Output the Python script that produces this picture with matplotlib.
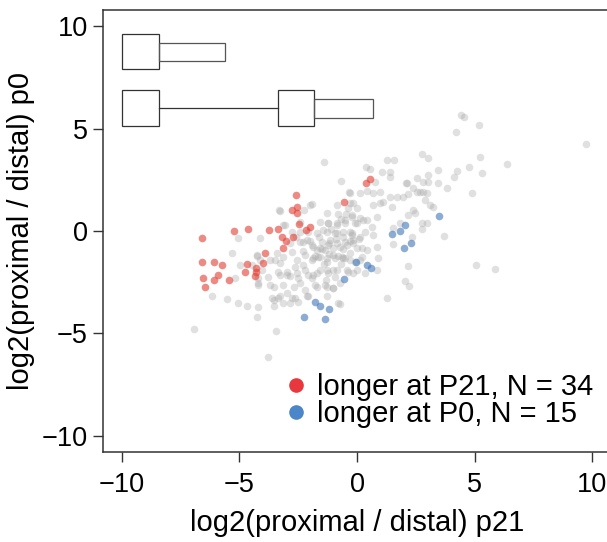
import numpy as np
import matplotlib
matplotlib.use("Agg")
import matplotlib.pyplot as plt
from matplotlib.patches import Rectangle
from matplotlib.lines import Line2D

plt.rcParams['font.family'] = ['Liberation Sans', 'DejaVu Sans']

# log2(proximal / distal) at p21 (x) and p0 (y)
gray_x = [-1.40, 0.38, 0.55, -0.68, 0.76, -0.33, 0.13, 0.41, 0.69, 0.98, -1.92, -3.30, -2.25,
          -0.86, -0.16, 0.69, 0.98, -1.29, -0.79, -0.47, -0.23, 0.13, 0.41, 0.84, -3.13, -2.42,
          -1.57, -1.22, -0.86, -0.51, -0.08, 0.62, -5.08, -4.12, -2.42, -2.07, -1.71, -1.29,
          -0.93, -0.58, -0.23, 0.34, 0.69, -5.32, -4.26, -3.69, -3.41, -2.85, -2.42, -2.14,
          -1.85, -1.57, -1.22, -0.86, -0.51, -0.16, 0.20, 0.41, 0.84, -4.97, -4.47, -4.12,
          -3.27, -2.99, -2.63, -2.28, -1.92, -1.64, -1.29, -1.00, -0.65, -0.30, 0.20, 0.91,
          -5.18, -4.19, -3.77, -3.27, -2.85, -2.49, -2.07, -1.71, -1.29, -0.93, -0.16, 0.34,
          0.84, -4.19, -3.55, -2.70, -2.21, -1.71, -1.29, -1.00, -0.72, -6.17, -5.53, -5.04,
          -4.69, -4.19, -3.62, -3.27, -3.13, -2.77, -2.49, -2.07, -0.72, -4.26, -3.55, -6.92,
          -3.43, -3.78,
          -1.5, -1.2, -0.9, -0.6, -0.3, -0.1, -1.4, -1.0, -0.7, -0.4, -1.8, -2.0, -1.6, -0.2,
          0.1, -1.1, -0.7, -0.4, -1.9, -1.3, -0.5, -2.3, -2.6, -0.8, -1.2,
          -0.30, -0.30, -0.01, -1.22, -0.86, -0.51, -0.23, -0.01, 0.27, -2.00, -3.27, -3.06,
          -2.77, -1.43, -1.50, -1.15, -0.86, -0.58, -0.30, -0.16, 0.13, -2.28, -1.92, -1.71,
          -1.36, -1.00, -0.72, -0.44, -0.01, -2.77, -2.56, -2.21, -1.85, -1.57, -1.29, -0.93,
          -0.58, -0.30, 0.13, -3.13, -3.48, -4.26, -4.05, -3.34, -2.99, -2.56, -2.21, -1.85,
          -1.57, -1.22, -0.86, -0.44, -0.01, -4.19, -3.69, -3.13, -2.42, -1.78, -1.36, -1.00,
          -3.34, -2.99, -2.63, -2.14, -1.29, -0.79, -3.55, -2.85,
          4.42, 4.54, 5.19, 4.23, 9.75, 2.75, 3.03, 1.29, 1.57, 5.22, 6.38, 4.77, 4.27, 4.13,
          3.45, 3.03, 5.32, 1.05, 1.40, 1.40, 2.08, 2.82, 3.45, 3.81, 4.87, 2.39, 2.68, 2.96,
          1.40, 1.68, 1.97, 2.18, 1.12, 1.47, 2.89, 3.10, 3.24, 2.39, 2.18, 1.54, 1.83, 2.75,
          2.96, 2.75, 2.32, 3.71, 1.54, 5.05, 5.86, 2.18, 2.04, 2.22, 1.26, 2.46, 2.53, 2.82,
          3.03, 2.53, 2.11]
gray_y = [3.38, 3.11, 3.04, 2.44, 2.41, 1.92, 1.87, 1.95, 1.84, 1.92, 1.30, 1.01, 1.01,
          1.27, 1.35, 1.27, 1.35, 0.86, 0.83, 0.83, 0.78, 0.62, 0.54, 0.70, 0.29, 0.46,
          0.46, 0.41, 0.29, 0.37, 0.41, 0.21, -0.36, -0.36, -0.03, -0.03, -0.11, -0.03,
          -0.08, -0.03, -0.11, -0.03, -0.20, -1.07, -1.20, -1.41, -1.09, -0.60, -0.52, -0.44,
          -0.76, -0.85, -0.68, -0.60, -0.52, -0.60, -0.85, -0.93, -0.76, -1.66, -1.66, -1.41,
          -1.58, -1.98, -1.74, -1.66, -1.41, -1.25, -1.33, -1.17, -1.25, -1.09, -1.25, -1.33,
          -2.31, -2.31, -2.23, -2.15, -2.20, -2.31, -2.15, -2.07, -1.90, -2.23, -2.07, -2.07,
          -1.90, -2.63, -2.72, -2.72, -2.88, -2.72, -2.72, -2.80, -2.55, -3.17, -3.32, -3.50,
          -3.66, -3.72, -3.28, -3.20, -3.53, -3.28, -3.45, -3.20, -3.56, -4.18, -3.66, -4.78,
          -4.88, -6.15,
          -0.9, -1.1, -0.4, -0.9, -0.5, -1.5, -1.6, -1.9, -1.6, -2.0, -1.2, -0.5, -0.3, -0.2,
          -0.4, 0.1, 0.6, 1.1, -2.3, -2.4, -1.3, -1.0, -0.3, -1.2, -0.6,
          1.87, 1.35, 1.11, 0.37, 0.37, 0.54, 0.70, 0.37, 0.54, 1.27, 0.99, 0.29,
          -0.03, 0.05, -0.52, -0.44, -0.11, -0.28, -0.03, -0.44, -0.28, -0.52, -0.68, -0.93,
          -0.93, -0.85, -0.76, -0.68, -0.85, -1.01, -1.41, -1.17, -1.33, -1.25, -1.50, -1.33,
          -1.33, -1.41, -1.41, -1.25, -1.41, -1.17, -1.90, -1.98, -2.15, -2.07, -1.90, -2.15,
          -1.90, -2.07, -1.90, -1.90, -1.90, -2.55, -2.63, -2.63, -2.55, -2.63, -2.63, -2.80,
          -3.28, -3.04, -3.28, -3.20, -3.20, -3.53, -3.37, -3.53,
          5.66, 5.58, 5.17, 4.83, 4.24, 3.74, 3.59, 3.46, 3.46, 3.63, 3.27, 3.14, 2.91, 2.65,
          2.98, 2.73, 2.81, 2.89, 2.89, 2.65, 2.36, 2.41, 2.33, 2.11, 1.84, 2.08, 1.92, 1.84,
          1.67, 1.67, 1.67, 1.79, 1.43, 1.19, 1.51, 1.27, 1.19, 1.02, 0.78, 0.13, 0.37, 0.37,
          0.37, 0.08, -0.28, -0.23, -0.63, -1.64, -1.87, -1.71, -2.44, -2.68, -3.28, 0.86, 1.92, 1.92,
          2.40, 2.57, 2.33]

# longer at P21
red_x = [-6.59, -5.22, -4.64, -3.75, -3.37, -2.58, -2.77, -2.56, -2.56, -2.48, -2.17, -2.00,
         -3.21, -3.01, -3.13, -2.73, -6.59, -6.10, -5.73, -4.68, -3.92, -3.98, -4.76, -4.28,
         -4.33, -5.93, -6.10, -6.53, -6.48, -5.45, 0.37, 0.54, -0.56, -4.29]
red_y = [-0.34, 0.01, 0.11, 0.05, 0.10, 1.77, 1.01, 1.16, 0.86, 0.36, 0.03, 0.18,
         -0.29, -0.50, -0.84, -0.31, -1.50, -1.50, -1.64, -1.62, -1.07, -1.58, -2.00, -2.00,
         -2.18, -2.15, -2.40, -2.31, -2.72, -2.40, 2.33, 2.54, 1.43, -1.80]

# longer at P0
blue_x = [1.49, 1.83, 2.05, 2.00, 2.29, -0.06, 0.41, 0.61, -0.56, -1.77, -1.57, -1.20, -2.24,
          -1.35, 3.49]
blue_y = [-0.15, 0.01, 0.28, -0.81, -0.59, -1.50, -1.66, -1.80, -2.33, -3.46, -3.67, -3.79,
          -4.21, -4.29, 0.73]

red = '#E8383D'
blue = '#4A86C8'

fig = plt.figure(figsize=(6.07, 5.42), dpi=100)
ax = fig.add_axes([103 / 607, 90 / 542, 508 / 607, 442 / 542])

ax.scatter(gray_x, gray_y, s=30, color='#A0A0A0', alpha=0.32, linewidths=0)
ax.scatter(red_x, red_y, s=30, color='#E03C31', alpha=0.6, linewidths=0)
ax.scatter(blue_x, blue_y, s=30, color='#3F76B8', alpha=0.6, linewidths=0)

# gene models: short vs long 3'UTR
ec = '#333333'
ax.add_patch(Rectangle((-10, 7.94), 1.56, 1.70, fill=False, ec=ec, lw=0.9))
ax.add_patch(Rectangle((-8.44, 8.31), 2.84, 0.89, fill=False, ec='#555555', lw=0.9))
ax.add_patch(Rectangle((-10, 5.12), 1.56, 1.76, fill=False, ec=ec, lw=0.9))
ax.plot([-8.44, -3.34], [6.01, 6.01], color=ec, lw=0.9)
ax.add_patch(Rectangle((-3.34, 5.12), 1.53, 1.76, fill=False, ec=ec, lw=0.9))
ax.add_patch(Rectangle((-1.81, 5.5), 2.5, 0.97, fill=False, ec='#555555', lw=0.9))

ax.set_xlim(-10.8, 10.8)
ax.set_ylim(-10.8, 10.8)
ax.set_xticks([-10, -5, 0, 5, 10])
ax.set_yticks([-10, -5, 0, 5, 10])
ax.tick_params(direction='out', length=7.5, width=1, color='#333333', labelsize=19.5)
ax.tick_params(axis='x', pad=7)
ax.tick_params(axis='y', pad=3.5)
for s in ax.spines.values():
    s.set_linewidth(1.1)
    s.set_color('#333333')

ax.set_xlabel('log2(proximal / distal) p21', fontsize=21, labelpad=8)
ax.set_ylabel('log2(proximal / distal) p0', fontsize=21, labelpad=5)

handles = [Line2D([], [], marker='o', ls='', color=red, markersize=9.5),
           Line2D([], [], marker='o', ls='', color=blue, markersize=9.5)]
ax.legend(handles, ['longer at P21, N = 34', 'longer at P0, N = 15'],
          loc='upper left', bbox_to_anchor=(0.352, 0.178), frameon=False, fontsize=21,
          handletextpad=0.2, labelspacing=-0.03, borderpad=0, handlelength=1.0,
          borderaxespad=0)

fig.savefig('out.png', dpi=100)
